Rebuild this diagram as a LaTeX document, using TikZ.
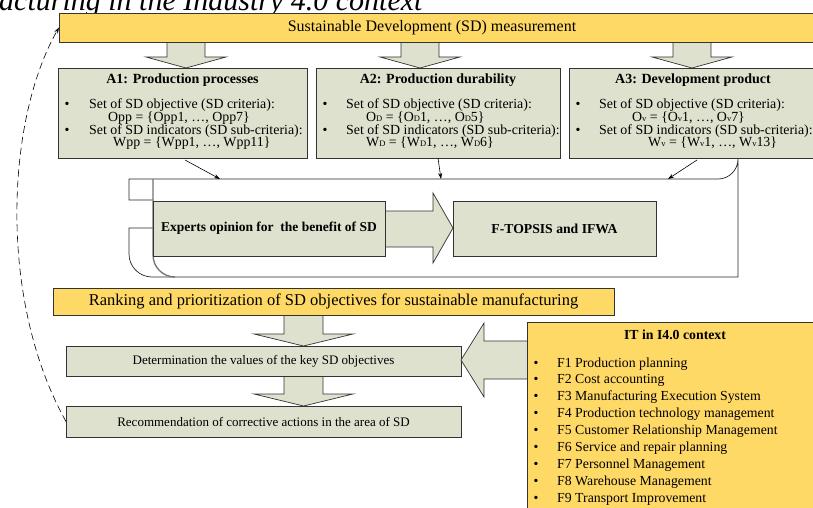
\documentclass[tikz,border=0pt]{standalone}
\usepackage{fontspec}
\setmainfont{Liberation Serif}
\usetikzlibrary{arrows.meta,calc}
\definecolor{ylw}{RGB}{255,217,102}
\definecolor{olv}{RGB}{221,225,205}
\newcommand{\fsz}[1]{\fontsize{#1}{#1}\selectfont}
\newcommand{\smD}{{\fontsize{8.5}{8.5}\selectfont D}}
\newcommand{\smv}{{\fontsize{8.5}{8.5}\selectfont v}}
\begin{document}
\begin{tikzpicture}[x=1pt,y=-1pt,
  box/.style={draw=black!80, line width=0.9pt, anchor=north west, inner sep=0pt, outer sep=0pt},
  ybox/.style={box, fill=ylw},
  gbox/.style={box, fill=olv},
  blk/.style={draw=black!80, line width=0.7pt, fill=olv},
  conn/.style={draw=black, line width=0.6pt, -{Stealth[length=6pt,width=4pt]}},
  txt/.style={inner sep=0pt, anchor=base west},
  ctxt/.style={inner sep=0pt, anchor=base},
  body/.style={txt, font=\fsz{13.9}},
  itm/.style={txt, font=\fsz{13.8}},
]
\useasboundingbox (0,0) rectangle (813,508);

% caption fragment
\node[txt, font=\fsz{30}\itshape] (cap) at (-1,11) {acturing in the Industry 4.0 context};

% top block arrows
\foreach \c in {186,420,692}{
  \draw[blk] (\c-19,40) -- (\c+19,40) -- (\c+19,57) -- (\c+40,57) -- (\c,68) -- (\c-40,57) -- (\c-19,57) -- cycle;
}

% top box
\node[ybox, minimum width=780, minimum height=29] (sd) at (59,13) {};
\node[ctxt, font=\fsz{16}] (sdt) at (432,32) {Sustainable Development (SD) measurement};

% A boxes
\node[gbox, minimum width=249, minimum height=90] (a1) at (58,68) {};
\node[gbox, minimum width=244, minimum height=90] (a2) at (316,68) {};
\node[gbox, minimum width=260, minimum height=90] (a3) at (569,68) {};

\node[ctxt, font=\fsz{14}\bfseries] (a1t) at (a1.north |- 0,84) {A1: Production processes};
\node[ctxt, font=\fsz{14}\bfseries] (a2t) at (a2.north |- 0,84) {A2: Production durability};
\node[ctxt, font=\fsz{14}\bfseries] (a3t) at ($(a3.north west)+(124,16)$) {A3: Development product};

\foreach \n/\x in {1/67,2/325,3/578}{
  \node[ctxt, font=\fsz{13.9}] (b\n a) at (\x,109) {\textbullet};
  \node[ctxt, font=\fsz{13.9}] (b\n b) at (\x,134) {\textbullet};
}
\node[body] (l1a) at (89,109) {Set of SD objective (SD criteria):};
\node[body] (l1b) at (108,121.5) {Opp = \{Opp1, \dots, Opp7\}};
\node[body] (l1c) at (89,134) {Set of SD indicators (SD sub-criteria):};
\node[body] (l1d) at (113,146.5) {Wpp = \{Wpp1, \dots, Wpp11\}};

\node[body] (l2a) at (346,109) {Set of SD objective (SD criteria):};
\node[body] (l2b) at (366,121.5) {O\smD{} = \{O\smD1, \dots, O\smD5\}};
\node[body] (l2c) at (346,134) {Set of SD indicators (SD sub-criteria):};
\node[body] (l2d) at (366,146.5) {W\smD{} = \{W\smD1, \dots, W\smD6\}};

\node[body] (l3a) at (599,109) {Set of SD objective (SD criteria):};
\node[body] (l3b) at (632,121.5) {O\smv{} = \{O\smv1, \dots, O\smv7\}};
\node[body] (l3c) at (599,134) {Set of SD indicators (SD sub-criteria):};
\node[body] (l3d) at (648,146.5) {W\smv{} = \{W\smv1, \dots, W\smv13\}};

% container outline
\coordinate (k1) at (220,179);
\coordinate (k2) at (441,179);
\coordinate (k3) at (668,179);
\draw[line width=0.7pt, draw=black!85] (153,200) -- (129,200) -- (129,179) -- (718,179) arc[start angle=90, end angle=0, radius=20] -- (738,277) -- (152,277) arc[start angle=90, end angle=180, radius=23] -- (129,228) -- (153,228);
\draw[line width=1.3pt, draw=black!55] (153,179) -- (153,255) arc[start angle=180, end angle=90, radius=22];

% connectors from A boxes
\coordinate (s1) at (185,160);
\coordinate (s3) at (697,160);
\draw[conn] (s1) -- (k1);
\draw[conn] (a2.south) -- (k2);
\draw[conn] (s3) -- (k3);

% middle boxes
\draw[blk] (385,211) -- (433,211) -- (433,193) -- (453,228) -- (433,263) -- (433,247) -- (385,247) -- cycle;
\node[gbox, minimum width=232, minimum height=55] (exp) at (153,201) {};
\node[font=\fsz{13.5}\bfseries, inner sep=0pt] (expt) at (exp.center) {Experts opinion for\ \ the benefit of SD};
\node[gbox, minimum width=203, minimum height=55] (ft) at (453,201) {};
\node[font=\fsz{13.7}\bfseries, inner sep=0pt] (ftt) at (ft.center) {F-TOPSIS and IFWA};

% lower part
\foreach \t/\b in {315/346,376/406}{
  \draw[blk] (284,\t) -- (323,\t) -- (323,\b-12) -- (353,\b-12) -- (303.5,\b) -- (254,\b-12) -- (284,\b-12) -- cycle;
}
\node[ybox, minimum width=561, minimum height=27] (rank) at (53,288) {};
\node[font=\fsz{16.5}, inner sep=0pt] (rankt) at (rank.center) {Ranking and prioritization of SD objectives for sustainable manufacturing};
\node[gbox, minimum width=395, minimum height=30] (det) at (66,346) {};
\node[font=\fsz{13}, inner sep=0pt] (dett) at (det.center) {Determination the values of the key SD objectives};
\node[gbox, minimum width=395, minimum height=31] (rec) at (66,406) {};
\node[font=\fsz{13}, inner sep=0pt] (rect) at (rec.center) {Recommendation of corrective actions in the area of SD};

% IT box and arrow
\draw[blk] (540,341) -- (484,341) -- (484,323) -- (461,360) -- (484,397) -- (484,379) -- (540,379) -- cycle;
\node[ybox, minimum width=300, minimum height=200] (it) at (527,322) {};
\node[ctxt, font=\fsz{13.8}\bfseries] (itt) at (675,339) {IT in I4.0 context};
\foreach \i/\s [count=\k from 0] in {1/Production planning,2/Cost accounting,3/Manufacturing Execution System,4/Production technology management,5/Customer Relationship Management,6/Service and repair planning,7/Personnel Management,8/Warehouse Management,9/Transport Improvement}{
  \node[ctxt, font=\fsz{13.8}] (itb\i) at (536,367+16.9*\k) {\textbullet};
  \node[itm] (iti\i) at (557,367+16.9*\k) {F\i\ \s};
}

% dashed feedback arrow
\draw[line width=0.6pt, dash pattern=on 7pt off 4pt, -{Stealth[length=6pt,width=4pt]}] (rec.west) .. controls (-2,300) and (6,120) .. (sd.west);
\end{tikzpicture}
\end{document}
